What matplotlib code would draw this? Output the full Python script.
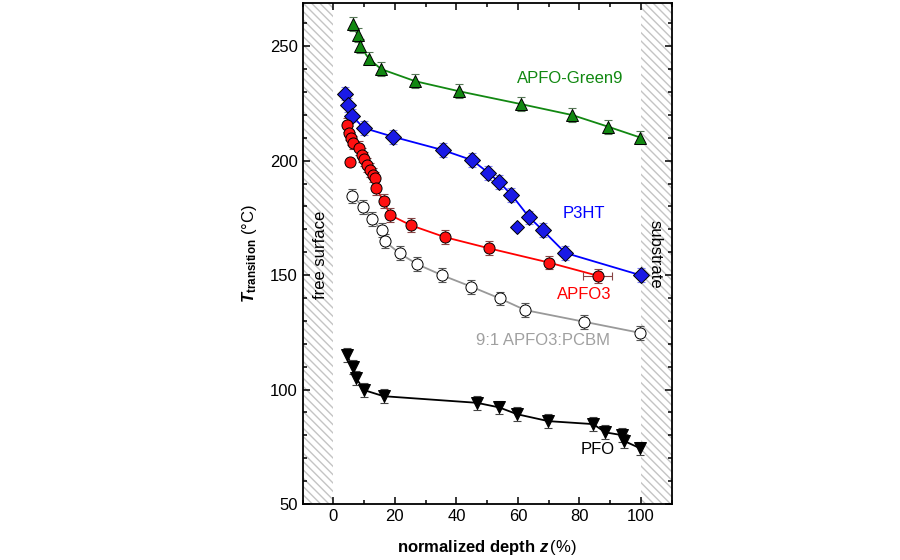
import numpy as np
import matplotlib.pyplot as plt
from matplotlib.ticker import MultipleLocator

plt.rcParams['font.family'] = ['Liberation Sans', 'DejaVu Sans']
plt.rcParams['mathtext.fontset'] = 'custom'
plt.rcParams['mathtext.rm'] = 'Liberation Sans'
plt.rcParams['mathtext.it'] = 'Liberation Sans:italic'
plt.rcParams['mathtext.bf'] = 'Liberation Sans:bold'
plt.rcParams['mathtext.bfit'] = 'Liberation Sans:bold:italic'

# APFO-Green9
green_z = [6.3, 7.9, 8.7, 11.5, 15.5, 26.6, 40.9, 61.0, 77.7, 89.4, 99.8]
green_t = [259.6, 254.8, 250.0, 244.6, 240.0, 234.7, 230.3, 224.7, 219.9, 214.8, 210.1]

# P3HT
p3ht_z = [3.8, 4.8, 6.0, 9.8, 19.5, 35.6, 45.1, 50.4, 53.9, 57.9, 63.7, 68.0, 75.4, 100.0]
p3ht_t = [229.3, 224.4, 219.7, 214.3, 210.4, 204.6, 200.2, 194.7, 190.6, 185.1, 175.2, 169.7, 159.7, 149.9]
p3ht_out_z = [59.8]
p3ht_out_t = [170.8]

# APFO3
apfo3_z = [4.3, 5.0, 5.8, 6.5, 8.2, 9.2, 9.8, 10.9, 12.0, 13.0, 13.6, 13.9, 16.3, 18.5,
           25.1, 36.2, 50.6, 70.0, 86.0]
apfo3_t = [215.5, 212.1, 209.7, 207.9, 205.6, 202.4, 200.7, 198.0, 195.9, 193.7, 192.2, 187.9,
           182.4, 176.2, 171.8, 166.6, 161.7, 155.5, 149.7]
apfo3_out_z = [5.4]
apfo3_out_t = [199.5]

# 9:1 APFO3:PCBM
blend_z = [6.2, 9.7, 12.4, 15.7, 16.7, 21.5, 27.3, 35.4, 44.9, 54.1, 62.4, 81.6, 99.6]
blend_t = [184.5, 179.8, 174.5, 169.7, 164.8, 159.5, 154.7, 149.9, 144.9, 139.8, 134.7, 129.6, 124.8]

# PFO
pfo_z = [4.3, 6.3, 7.4, 10.1, 16.3, 46.7, 53.9, 59.8, 69.9, 84.5, 88.4, 93.8, 94.6, 99.8]
pfo_t = [115.0, 110.0, 104.9, 99.7, 97.1, 94.2, 92.2, 89.2, 86.2, 84.9, 81.3, 80.1, 77.5, 74.3]

err = 3.0

fig = plt.figure(figsize=(9, 5.6), dpi=100)
ax = fig.add_axes([0.3363, 0.1, 0.41, 0.8952])

# hatched regions
for lo, hi in [(-10, 0), (100, 110)]:
    ax.axvspan(lo, hi, facecolor='white', edgecolor='#c4c4c4', hatch='\\\\\\\\', linewidth=0, zorder=0)

def series(z, t, color, ecolor, marker, mfc, lc, xerr=None):
    ax.plot(z, t, '-', color=lc, lw=1.3, zorder=2)
    ax.errorbar(z, t, yerr=err, xerr=xerr, fmt='none', ecolor=ecolor, elinewidth=0.8,
                capsize=3, capthick=0.8, zorder=3)
    ax.plot(z, t, linestyle='none', marker=marker, ms=8, mfc=mfc, mec='black', mew=0.7, zorder=4)

series(green_z, green_t, 'green', '#557755', '^', '#118811', '#128812')
series(p3ht_z, p3ht_t, 'blue', '#8080ff', 'D', '#1a1ae6', '#0000ff')
ax.plot(p3ht_out_z, p3ht_out_t, linestyle='none', marker='D', ms=7.5, mfc='#1a1ae6', mec='black', mew=0.7, zorder=4)
apfo3_xerr = [0] * (len(apfo3_z) - 1) + [4.7]
series(apfo3_z, apfo3_t, 'red', '#884444', 'o', '#ff1010', '#ff0000', xerr=apfo3_xerr)
ax.plot(apfo3_out_z, apfo3_out_t, linestyle='none', marker='o', ms=8, mfc='#ff1010', mec='black', mew=0.7, zorder=4)
series(blend_z, blend_t, 'gray', '#555555', 'o', 'white', '#999999')
series(pfo_z, pfo_t, 'black', '#444444', 'v', 'black', 'black')

# labels on curves
ax.text(77, 236, 'APFO-Green9', color='#118811', fontsize=12, ha='center', va='center')
ax.text(81.5, 177, 'P3HT', color='#0000ff', fontsize=12, ha='center', va='center')
ax.text(81.5, 141.7, 'APFO3', color='#ff0000', fontsize=12, ha='center', va='center')
ax.text(68, 121.6, '9:1 APFO3:PCBM', color='#a0a0a0', fontsize=12, ha='center', va='center')
ax.text(86, 73.6, 'PFO', color='black', fontsize=12, ha='center', va='center')
ax.text(-4.3, 159, 'free surface', rotation=90, fontsize=12, ha='center', va='center')
ax.text(104.6, 159, 'substrate', rotation=-90, fontsize=12, ha='center', va='center')

ax.set_xlim(-10, 110)
ax.set_ylim(50, 269)
ax.xaxis.set_major_locator(MultipleLocator(20))
ax.xaxis.set_minor_locator(MultipleLocator(10))
ax.yaxis.set_major_locator(MultipleLocator(50))
ax.yaxis.set_minor_locator(MultipleLocator(10))
ax.tick_params(which='both', direction='in', top=True, right=True, labelsize=12, width=1.1)
ax.tick_params(which='major', length=5)
ax.tick_params(which='minor', length=3)
for s in ax.spines.values():
    s.set_linewidth(1.3)

ax.set_xlabel(r'$\mathbf{normalized\ depth}\ \boldsymbol{z}\,$(%)', fontsize=12, labelpad=10)
ax.set_ylabel(r'$\boldsymbol{T}_{\mathbf{transition}}$ (°C)', fontsize=12, labelpad=8)

fig.savefig('out.png', dpi=100)
